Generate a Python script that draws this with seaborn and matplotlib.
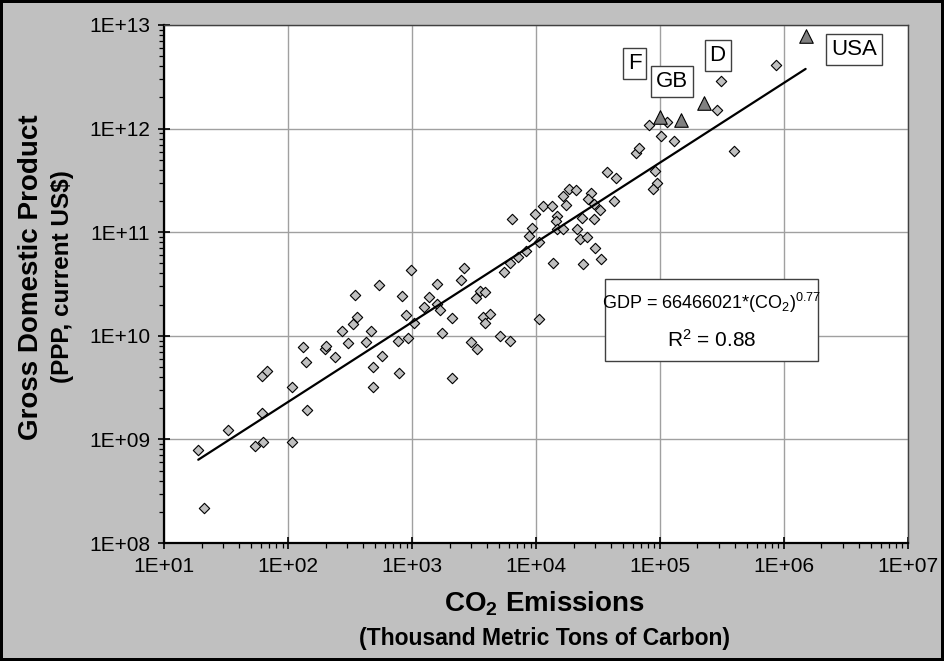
import numpy as np
import pandas as pd
import matplotlib
matplotlib.use("Agg")
import matplotlib.pyplot as plt
import seaborn as sns
from matplotlib.ticker import LogLocator, FuncFormatter, NullFormatter
from matplotlib.patches import Rectangle

# ---- data (thousand metric tons of carbon, GDP PPP current US$) ----
co2 = [18.8, 20.8, 32.7, 53.6, 62.5, 61.7, 61.0, 67.3, 108, 108,
       142, 131, 138, 198, 202, 239, 272, 301, 345, 330,
       358, 421, 465, 485, 485, 536, 566, 762, 785, 822,
       889, 923, 977, 1033,
       1581, 1371, 1242, 1581, 1663, 1738, 2080, 2080, 2472, 2624,
       2958, 3342, 3266, 3532, 3837, 3741, 4236, 3855, 5093, 6095,
       5495, 6138, 6339, 7161, 8222, 8690, 9183, 9705, 10570, 10520,
       11320, 13300, 13710, 14590, 14360, 14790, 16520, 16330, 17380, 18410,
       20800, 23230, 21280, 22490, 25470, 23930, 29720, 33270, 27480, 26240,
       29380, 32810, 29170, 42360, 37150, 44160, 63390, 90570, 93540, 87900,
       67140, 81470, 101900, 128800, 113800, 390800, 288400, 310500, 857000]
gdp = [7.85e8, 2.19e8, 1.22e9, 8.6e8, 9.4e8, 1.79e9, 4.09e9, 4.54e9, 9.4e8, 3.21e9,
       1.92e9, 7.8e9, 5.6e9, 7.5e9, 8.0e9, 6.3e9, 1.11e10, 8.5e9, 2.46e10, 1.29e10,
       1.53e10, 8.7e9, 1.11e10, 5.0e9, 3.18e9, 3.12e10, 6.4e9, 8.9e9, 4.38e9, 2.44e10,
       1.58e10, 9.5e9, 4.35e10, 1.32e10,
       3.14e10, 2.37e10, 1.91e10, 2.01e10, 1.76e10, 1.07e10, 1.49e10, 3.92e9, 3.48e10, 4.51e10,
       8.7e9, 7.4e9, 2.33e10, 2.69e10, 2.67e10, 1.53e10, 1.62e10, 1.33e10, 1.0e10, 9.0e9,
       4.1e10, 5.0e10, 1.34e11, 5.77e10, 6.64e10, 9.25e10, 1.09e11, 1.49e11, 8.0e10, 1.45e10,
       1.80e11, 1.80e11, 5.0e10, 1.44e11, 1.28e11, 1.07e11, 1.07e11, 2.23e11, 1.83e11, 2.63e11,
       2.54e11, 1.36e11, 1.07e11, 8.6e10, 9.0e10, 4.93e10, 7.03e10, 5.47e10, 2.37e11, 2.09e11,
       1.86e11, 1.64e11, 1.35e11, 2.0e11, 3.84e11, 3.36e11, 5.81e11, 3.9e11, 2.96e11, 2.61e11,
       6.53e11, 1.09e12, 8.5e11, 7.59e11, 1.17e12, 6.04e11, 1.52e12, 2.88e12, 4.08e12]

countries = ["F", "GB", "D", "USA"]
country_co2 = [1.0e5, 1.476e5, 2.25e5, 1.49e6]
country_gdp = [1.30e12, 1.21e12, 1.78e12, 7.89e12]

fit_coef = 66466021
fit_expo = 0.77
fit_r2 = 0.88

x_ticks = [1e1, 1e2, 1e3, 1e4, 1e5, 1e6, 1e7]
y_ticks = [1e8, 1e9, 1e10, 1e11, 1e12, 1e13]

# ---- style ----
sns.set_theme(style="white")
plt.rcParams['font.family'] = ['Liberation Sans', 'DejaVu Sans']
plt.rcParams['mathtext.fontset'] = 'custom'
plt.rcParams['mathtext.rm'] = 'Liberation Sans'
plt.rcParams['mathtext.it'] = 'Liberation Sans:italic'
plt.rcParams['mathtext.bf'] = 'Liberation Sans:bold'

fig = plt.figure(figsize=(9.44, 6.61), dpi=100)
fig.patch.set_facecolor('#c0c0c0')
fig.patch.set_edgecolor('black')
fig.patch.set_linewidth(3)

ax = fig.add_axes([0.174, 0.1785, 0.788, 0.7837])
ax.set_facecolor('white')
ax.set_xscale('log')
ax.set_yscale('log')

df = pd.DataFrame({'co2': co2, 'gdp': gdp})
tri = pd.DataFrame({'co2': country_co2, 'gdp': country_gdp, 'country': countries})

sns.scatterplot(data=df, x='co2', y='gdp', marker='D', s=28, color='#c0c0c0',
                edgecolor='black', linewidth=0.8, ax=ax, zorder=3, legend=False)

all_x = np.array(co2 + country_co2, dtype=float)
xs = np.logspace(np.log10(all_x.min()), np.log10(all_x.max()), 60)
trend = pd.DataFrame({'co2': xs, 'gdp': fit_coef * xs ** fit_expo})
sns.lineplot(data=trend, x='co2', y='gdp', color='black', linewidth=1.6, ax=ax, zorder=4)

sns.scatterplot(data=tri, x='co2', y='gdp', marker='^', s=95, color='#808080',
                edgecolor='black', linewidth=0.8, ax=ax, zorder=5, legend=False)

ax.set_xlim(x_ticks[0], x_ticks[-1])
ax.set_ylim(y_ticks[0], y_ticks[-1])
ax.set_xticks(x_ticks)
ax.set_yticks(y_ticks)
ax.xaxis.set_minor_locator(LogLocator(base=10, subs=np.arange(2, 10), numticks=30))
ax.yaxis.set_minor_locator(LogLocator(base=10, subs=np.arange(2, 10), numticks=30))
fmt = FuncFormatter(lambda v, p: f"1E+{int(round(np.log10(v))):02d}")
ax.xaxis.set_major_formatter(fmt)
ax.yaxis.set_major_formatter(fmt)
ax.xaxis.set_minor_formatter(NullFormatter())
ax.yaxis.set_minor_formatter(NullFormatter())

ax.tick_params(which='both', bottom=True, left=True, top=False, right=False)
ax.tick_params(which='major', direction='inout', length=8, width=1.2, color='black',
               labelsize=15, labelcolor='black')
ax.tick_params(axis='x', which='major', pad=6)
ax.tick_params(axis='y', which='major', pad=6)
ax.tick_params(which='minor', direction='out', length=3.5, width=0.9, color='black')

ax.grid(True, which='major', color='#a0a0a0', linewidth=1)
ax.grid(False, which='minor')
ax.set_axisbelow(True)

for side in ['left', 'bottom']:
    ax.spines[side].set_color('black')
    ax.spines[side].set_linewidth(1.6)
for side in ['top', 'right']:
    ax.spines[side].set_color('#404040')
    ax.spines[side].set_linewidth(1.0)

ax.set_xlabel('')
ax.set_ylabel('')

# country label boxes
label_pos = [(0.6321, 0.9257), (0.6820, 0.8915), (0.7439, 0.9405), (0.9276, 0.9523)]
for name, (fx, fy) in zip(countries, label_pos):
    ax.text(fx, fy, name, transform=ax.transAxes, ha='center', va='center',
            fontsize=16, color='black', zorder=6,
            bbox=dict(boxstyle='square,pad=0.22', fc='white', ec='#404040', lw=1))

# equation box
ax.add_patch(Rectangle((0.5923, 0.3514), 0.2863, 0.1583, transform=ax.transAxes,
                       facecolor='white', edgecolor='#404040', lw=1, zorder=6))
ax.text(0.7355, 0.463, f"GDP = {fit_coef}*(CO$_2$)$^{{{fit_expo}}}$",
        transform=ax.transAxes, ha='center', va='center', fontsize=13,
        zorder=7, color='black')
ax.text(0.7355, 0.392, "R$^2$ = " + f"{fit_r2}",
        transform=ax.transAxes, ha='center', va='center', fontsize=15, zorder=7, color='black')

# axis titles
fig.text(0.577, 0.0862, r"CO$_\mathbf{2}$ Emissions", ha='center', va='center',
         fontsize=20, fontweight='bold', color='black')
fig.text(0.577, 0.0333, "(Thousand Metric Tons of Carbon)", ha='center', va='center',
         fontsize=16.5, fontweight='bold', color='black')
fig.text(0.0328, 0.581, "Gross Domestic Product", ha='center', va='center', rotation=90,
         fontsize=20, fontweight='bold', color='black')
fig.text(0.0657, 0.581, "(PPP, current US$)", ha='center', va='center', rotation=90,
         fontsize=17.5, fontweight='bold', color='black')

fig.savefig('out.png', dpi=100, facecolor=fig.get_facecolor(), edgecolor=fig.get_edgecolor())
